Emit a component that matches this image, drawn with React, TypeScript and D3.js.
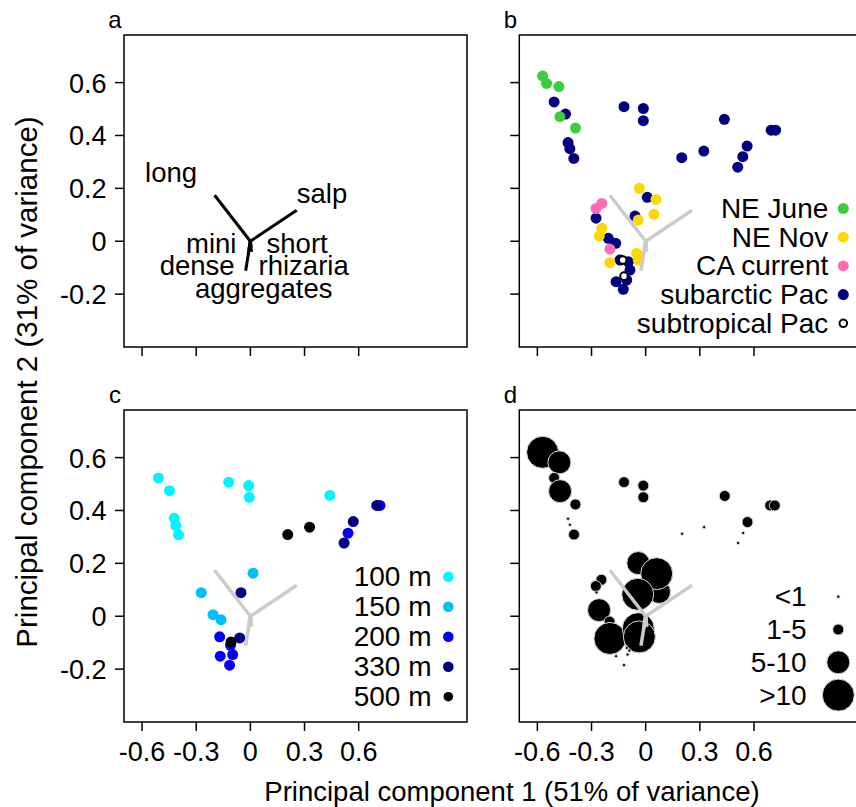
import React from 'react';
import * as d3 from 'd3';

// ---------- axes ----------
const xTicks = [-0.6, -0.3, 0, 0.3, 0.6];
const xTickLabels = ['-0.6', '-0.3', '0', '0.3', '0.6'];
const yTicks = [-0.2, 0, 0.2, 0.4, 0.6];
const yTickLabels = ['-0.2', '0', '0.2', '0.4', '0.6'];
const xDomain = [-0.7, 1.2];
const yDomain = [-0.4, 0.78];

// ---------- loadings (panel a) ----------
const loadingNames = ['long', 'salp', 'aggregates', 'mini', 'dense', 'short', 'rhizaria'];
const loadingPC1 = [-0.198, 0.257, -0.026, -0.008, -0.012, 0.004, 0.006];
const loadingPC2 = [0.174, 0.117, -0.112, -0.03, -0.05, -0.025, -0.04];
const labelPC1 = [-0.439, 0.397, 0.074, -0.217, -0.295, 0.259, 0.295];
const labelPC2 = [0.223, 0.143, -0.216, -0.046, -0.128, -0.046, -0.128];

// ---------- panel b: regions ----------
const regionNames = ['NE June', 'NE Nov', 'CA current', 'subarctic Pac', 'subtropical Pac'];
const regionColors = ['#3dcc3d', '#ffd700', '#ff6eb4', '#000080', '#ffffff'];
const subarcticPac: [number, number][] = [
  [-0.507, 0.527], [-0.444, 0.481], [-0.43, 0.373], [-0.42, 0.35], [-0.398, 0.313],
  [-0.12, 0.509], [-0.013, 0.502], [-0.013, 0.456], [0.2, 0.316], [0.322, 0.341],
  [0.436, 0.461], [0.562, 0.36], [0.538, 0.32], [0.51, 0.28], [0.695, 0.42], [0.72, 0.42],
  [0.009, 0.166], [-0.059, 0.095], [-0.275, 0.087], [-0.207, 0.011], [-0.166, -0.008],
  [-0.142, -0.071], [-0.096, -0.078], [-0.087, -0.109], [-0.164, -0.153], [-0.105, -0.147],
  [-0.124, -0.182],
];
const neNov: [number, number][] = [
  [-0.035, 0.2], [0.057, 0.158], [0.046, 0.102], [-0.041, 0.08], [-0.243, 0.049],
  [-0.257, 0.02], [-0.05, -0.046], [-0.041, -0.071], [-0.198, -0.081],
];
const caCurrent: [number, number][] = [[-0.243, 0.143], [-0.275, 0.124], [-0.198, -0.03]];
const neJune: [number, number][] = [
  [-0.571, 0.625], [-0.549, 0.597], [-0.481, 0.585], [-0.475, 0.471], [-0.389, 0.428],
];
const subtropicalPac: [number, number][] = [[-0.127, -0.071], [-0.12, -0.132]];

// ---------- panel c: depths ----------
const depthNames = ['100 m', '150 m', '200 m', '330 m', '500 m'];
const depthColors = ['#00f5ff', '#00bfff', '#0000ff', '#000080', '#000000'];
const depth100: [number, number][] = [
  [-0.509, 0.523], [-0.448, 0.475], [-0.422, 0.371], [-0.413, 0.343], [-0.398, 0.308],
  [-0.12, 0.507], [-0.009, 0.494], [-0.006, 0.45], [0.44, 0.457],
];
const depth150: [number, number][] = [[0.015, 0.163], [-0.272, 0.089], [-0.207, 0.006], [-0.163, -0.013]];
const depth200: [number, number][] = [
  [-0.17, -0.078], [-0.167, -0.151], [-0.098, -0.145], [-0.115, -0.185], [-0.11, -0.11],
  [0.541, 0.314], [0.718, 0.419],
];
const depth330: [number, number][] = [[-0.052, 0.089], [-0.059, -0.082], [0.57, 0.358], [0.519, 0.277], [0.7, 0.419]];
const depth500: [number, number][] = [[0.207, 0.309], [0.328, 0.337], [-0.107, -0.097]];

// ---------- panel d: abundance classes ----------
const sizeNames = ['<1', '1-5', '5-10', '>10'];
const sizeRadii = [1.6, 5.5, 11.5, 16];
const abundPC1 = [
  -0.571, -0.478, -0.507, -0.474, -0.389, -0.43, -0.42, -0.397,
  -0.12, -0.013, -0.013, 0.202, 0.324, 0.438, 0.564, 0.54, 0.512, 0.69, 0.715,
  0.074, -0.041, 0.061, -0.044, -0.245, -0.276, -0.272, -0.258, -0.2,
  -0.198, -0.041, -0.035, -0.164, -0.1, -0.12, -0.105, -0.09,
];
const abundPC2 = [
  0.62, 0.582, 0.523, 0.473, 0.423, 0.369, 0.346, 0.309,
  0.507, 0.494, 0.45, 0.312, 0.337, 0.455, 0.356, 0.315, 0.277, 0.419, 0.419,
  0.092, 0.201, 0.161, 0.083, 0.138, 0.114, 0.09, 0.023, -0.02,
  -0.084, -0.047, -0.078, -0.151, -0.145, -0.185, -0.12, -0.13,
];
const abundClass = [
  3, 2, 1, 2, 1, 0, 0, 1,
  1, 1, 1, 0, 0, 1, 1, 0, 0, 1, 1,
  2, 2, 3, 3, 1, 1, 0, 2, 1,
  3, 3, 3, 0, 0, 0, 0, 0,
];

// ---------- layout ----------
const PW = 343;
const PH = 312;
const FONT = "'Liberation Sans', Arial, Helvetica, sans-serif";

const xs = d3.scaleLinear().domain(xDomain).range([0, PW]);
const ys = d3.scaleLinear().domain(yDomain).range([PH, 0]);

type PanelProps = {
  ox: number; oy: number; letter: string; yLabels: boolean; xLabels: boolean;
  loadColor: string; children?: React.ReactNode;
};

function Panel({ ox, oy, letter, yLabels, xLabels, loadColor, children }: PanelProps) {
  const lw = loadColor === '#000' ? 3 : 3.5;
  return (
    <g transform={`translate(${ox},${oy})`}>
      <text x={-9} y={-7} fontSize={24} textAnchor="middle" fontFamily={FONT}>{letter}</text>
      {children}
      {loadingNames.map((n, i) => (
        <line key={n} x1={xs(0)} y1={ys(0)} x2={xs(loadingPC1[i])} y2={ys(loadingPC2[i])}
          stroke={loadColor} strokeWidth={lw} strokeLinecap="butt" />
      ))}
      <rect x={0} y={0} width={PW} height={PH} fill="none" stroke="#000" strokeWidth={1.5} />
      {yTicks.map((t, i) => (
        <g key={'y' + i}>
          <line x1={-9} x2={0} y1={ys(t)} y2={ys(t)} stroke="#000" strokeWidth={1.5} />
          {yLabels && (
            <text x={-17.5} y={ys(t) + 10} fontSize={27} textAnchor="end" fontFamily={FONT}>{yTickLabels[i]}</text>
          )}
        </g>
      ))}
      {xTicks.map((t, i) => (
        <g key={'x' + i}>
          <line x1={xs(t)} x2={xs(t)} y1={PH} y2={PH + 9} stroke="#000" strokeWidth={1.5} />
          {xLabels && (
            <text x={xs(t)} y={PH + 38.5} fontSize={27} textAnchor="middle" fontFamily={FONT}>{xTickLabels[i]}</text>
          )}
        </g>
      ))}
    </g>
  );
}

function Dots({ pts, color, r = 5.5 }: { pts: [number, number][]; color: string; r?: number }) {
  return (
    <g>
      {pts.map((p, i) => (
        <circle key={i} cx={xs(p[0])} cy={ys(p[1])} r={r} fill={color} />
      ))}
    </g>
  );
}

export default function App() {
  const bGroups: { pts: [number, number][]; idx: number }[] = [
    { pts: subarcticPac, idx: 3 },
    { pts: neNov, idx: 1 },
    { pts: caCurrent, idx: 2 },
    { pts: neJune, idx: 0 },
  ];
  const cGroups = [depth100, depth150, depth200, depth330, depth500];
  return (
    <svg width={856} height={807} style={{ position: 'absolute', left: 0, top: 0, background: '#fff' }}
      fontFamily={FONT}>
      <rect width={856} height={807} fill="#fff" />
      {/* panel a */}
      <Panel ox={124} oy={35} letter="a" yLabels xLabels={false} loadColor="#000">
        {loadingNames.map((n, i) => (
          <text key={n} x={xs(labelPC1[i])} y={ys(labelPC2[i])} fontSize={27.5} textAnchor="middle" fontFamily={FONT}>{n}</text>
        ))}
      </Panel>
      {/* panel b */}
      <Panel ox={519.3} oy={35} letter="b" yLabels={false} xLabels={false} loadColor="#cbcbcb">
        {bGroups.map((g) => <Dots key={g.idx} pts={g.pts} color={regionColors[g.idx]} />)}
        {subtropicalPac.map((p, i) => (
          <circle key={'st' + i} cx={xs(p[0])} cy={ys(p[1])} r={3.8} fill="#fff" stroke="#000" strokeWidth={2} />
        ))}
        {regionNames.map((n, i) => {
          const ly = 173.5 + i * 28.7;
          return (
            <g key={n}>
              <text x={309} y={ly + 9.5} fontSize={28} textAnchor="end" fontFamily={FONT}>{n}</text>
              {i < 4 ? (
                <circle cx={324} cy={ly} r={5.5} fill={regionColors[i]} />
              ) : (
                <circle cx={324} cy={ly} r={3.8} fill="#fff" stroke="#000" strokeWidth={2} />
              )}
            </g>
          );
        })}
      </Panel>
      {/* panel c */}
      <Panel ox={124} oy={410} letter="c" yLabels xLabels loadColor="#cbcbcb">
        {cGroups.map((g, i) => <Dots key={i} pts={g} color={depthColors[i]} />)}
        {depthNames.map((n, i) => {
          const ly = 166.7 + i * 30;
          return (
            <g key={n}>
              <text x={307.5} y={ly + 9.5} fontSize={28} textAnchor="end" fontFamily={FONT}>{n}</text>
              <circle cx={324.3} cy={ly} r={i === 4 ? 4.8 : 5.3} fill={depthColors[i]} />
            </g>
          );
        })}
      </Panel>
      {/* panel d */}
      <Panel ox={519.3} oy={410} letter="d" yLabels={false} xLabels loadColor="#cbcbcb">
        {abundPC1.map((v, i) => (
          <circle key={i} cx={xs(v)} cy={ys(abundPC2[i])} r={sizeRadii[abundClass[i]]}
            fill="#000" stroke="#d9d9d9" strokeWidth={1} />
        ))}
        {sizeNames.map((n, i) => {
          const ly = 186.7 + i * 32.8;
          return (
            <g key={n}>
              <text x={287.4} y={ly + 9.5} fontSize={28} textAnchor="end" fontFamily={FONT}>{n}</text>
              <circle cx={319} cy={ly} r={sizeRadii[i]} fill="#000" stroke="#d9d9d9" strokeWidth={1} />
            </g>
          );
        })}
      </Panel>
      {/* axis titles */}
      <text x={512} y={801} fontSize={27.5} textAnchor="middle" fontFamily={FONT}>
        Principal component 1 (51% of variance)
      </text>
      <text transform="translate(37,382) rotate(-90)" fontSize={29.5} textAnchor="middle" fontFamily={FONT}>
        Principal component 2 (31% of variance)
      </text>
    </svg>
  );
}
